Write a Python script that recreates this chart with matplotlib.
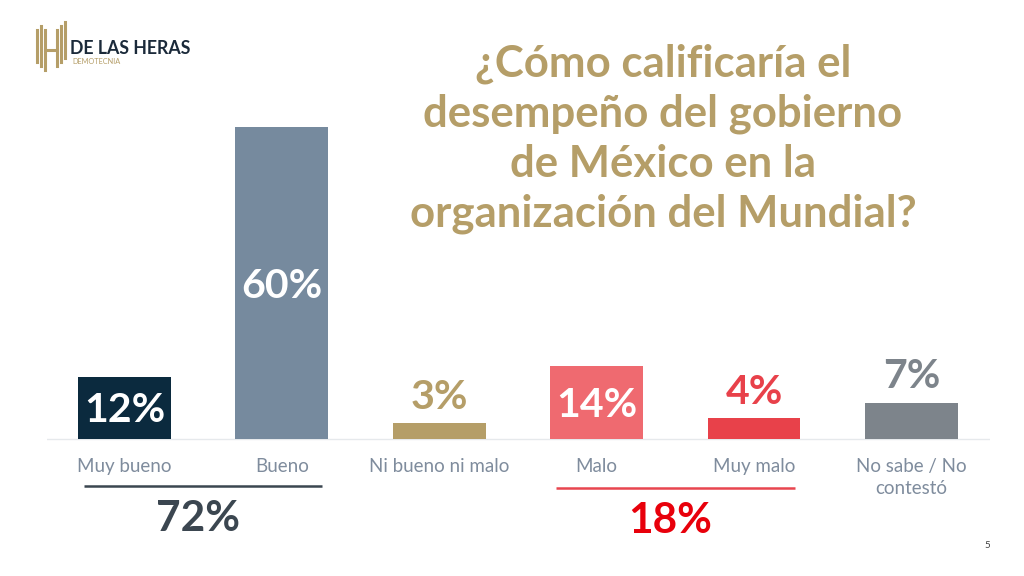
import matplotlib.pyplot as plt
from matplotlib.lines import Line2D

plt.rcParams['font.family'] = ['Lato', 'DejaVu Sans']

categories = ['Muy bueno', 'Bueno', 'Ni bueno ni malo', 'Malo', 'Muy malo', 'No sabe / No\ncontestó']
values = [12, 60, 3, 14, 4, 7]
bar_colors = ['#0B2A3E', '#768A9E', '#B59E68', '#EF6A70', '#E8414A', '#7D848B']
label_inside = [True, True, False, True, False, False]
label_colors = ['white', 'white', '#B59E68', 'white', '#E8414A', '#7D848B']

# grouped totals
group_spans = [(0, 1), (3, 4)]
group_totals = [72, 18]
group_line_colors = ['#3B4650', '#E8454F']
group_text_colors = ['#3B4650', '#E8000B']

title = '¿Cómo calificaría el\ndesempeño del gobierno\nde México en la\norganización del Mundial?'
gold = '#B59E68'

fig = plt.figure(figsize=(10.24, 5.76), dpi=100)
ax = fig.add_axes([47 / 1024, 0, 943 / 1024, 1])
ax.set_xlim(-0.492, 5.499)
ax.set_ylim(-26.35, 84.4)
ax.axis('off')

x = list(range(len(categories)))
ax.bar(x, values, width=0.59, color=bar_colors, zorder=2)
ax.axhline(0, color='#E6E9EC', lw=1, zorder=1)

for i, v in enumerate(values):
    if label_inside[i]:
        ax.text(i, v / 2 - 0.6, f'{v}%', ha='center', va='center', color=label_colors[i],
                fontsize=29.5, fontweight='bold')
    else:
        ax.text(i, v + 5, f'{v}%', ha='center', va='center', color=label_colors[i],
                fontsize=29.5, fontweight='bold')

for i, c in enumerate(categories):
    ax.text(i, -3.6, c, ha='center', va='top', color='#7F8C9D', fontsize=13.5, linespacing=1.35)

for (a, b), tot, lc, tc in zip(group_spans, group_totals, group_line_colors, group_text_colors):
    y_line = -9.0 if a == 0 else -9.4
    ax.plot([a - 0.257, b + 0.257], [y_line, y_line], color=lc, lw=1.8, solid_capstyle='butt')
    ax.text((a + b) / 2 - 0.03, y_line - 6.3, f'{tot}%', ha='center', va='center', color=tc,
            fontsize=30.5, fontweight='bold')

fig.text(663 / 1024, 1 - 138.5 / 576, title, ha='center', va='center', color=gold,
         fontsize=31.5, fontweight='bold', linespacing=1.29)

# logo
for x0, y0, y1 in [(37, 30, 62), (41, 26, 66), (45, 30, 70), (57, 30, 66), (61, 26, 62), (65, 22, 58)]:
    fig.add_artist(Line2D([x0 / 1024, x0 / 1024], [1 - y0 / 576, 1 - y1 / 576], color=gold, lw=2.2))
fig.add_artist(Line2D([45 / 1024, 57 / 1024], [1 - 50 / 576, 1 - 50 / 576], color=gold, lw=2.2))
fig.text(70 / 1024, 1 - 48 / 576, 'DE LAS HERAS', ha='left', va='center', color='#1B2A3A',
         fontsize=12.8, fontweight='bold')
fig.text(72 / 1024, 1 - 62 / 576, 'DEMOTECNIA', ha='left', va='center', color=gold, fontsize=5.3)

fig.text(987 / 1024, 1 - 546 / 576, '5', ha='center', va='center', color='#404040', fontsize=7)

fig.savefig('out.png', dpi=100, facecolor='white')
